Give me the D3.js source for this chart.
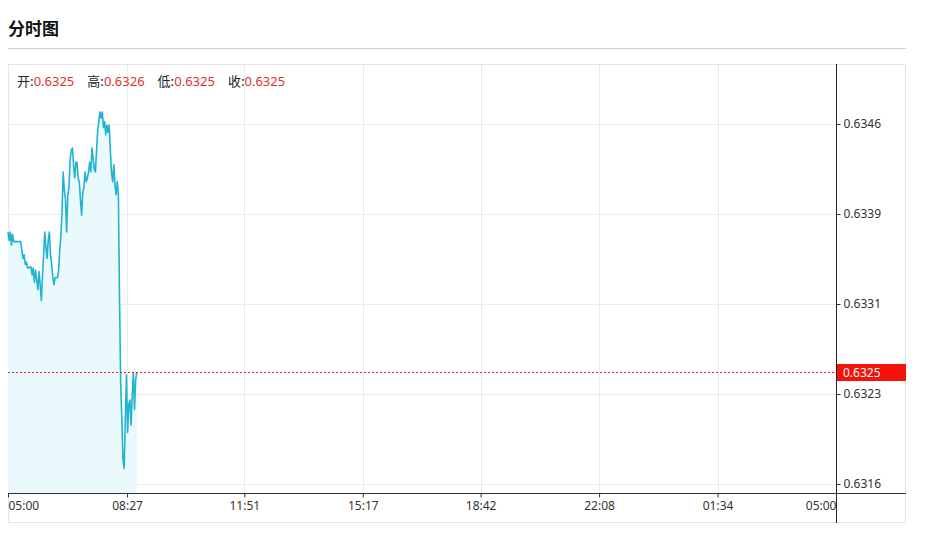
<!DOCTYPE html>
<html>
<head>
<meta charset="utf-8">
<script src="https://cdn.jsdelivr.net/npm/d3@7"></script>
<style>
  body { margin: 0; background: #fff; }
  svg { display: block; font-family: "Noto Sans CJK SC", "Noto Sans", sans-serif; }
</style>
</head>
<body>
<svg width="933" height="547"></svg>
<script>
// chart data
const startTime = "05:00";
const stepMinutes = 2;
const prices = [
  0.63370, 0.63363, 0.63370, 0.63359, 0.63368, 0.63362, 0.63362, 0.63362, 0.63362, 0.63362,
  0.63362, 0.63362, 0.63355, 0.63348, 0.63351, 0.63343, 0.63345, 0.63340, 0.63340, 0.63341,
  0.63341, 0.63334, 0.63340, 0.63328, 0.63338, 0.63330, 0.63322, 0.63337, 0.63326, 0.63313,
  0.63334, 0.63351, 0.63370, 0.63357, 0.63348, 0.63363, 0.63370, 0.63351, 0.63343, 0.63332,
  0.63326, 0.63332, 0.63332, 0.63332, 0.63338, 0.63355, 0.63367, 0.63387, 0.63420, 0.63405,
  0.63397, 0.63370, 0.63401, 0.63407, 0.63430, 0.63438, 0.63440, 0.63426, 0.63415, 0.63428,
  0.63428, 0.63415, 0.63412, 0.63397, 0.63384, 0.63403, 0.63407, 0.63420, 0.63412, 0.63415,
  0.63420, 0.63428, 0.63420, 0.63440, 0.63432, 0.63422, 0.63420, 0.63438, 0.63455, 0.63462,
  0.63470, 0.63465, 0.63470, 0.63457, 0.63462, 0.63451, 0.63459, 0.63453, 0.63459, 0.63438,
  0.63420, 0.63412, 0.63426, 0.63409, 0.63401, 0.63412, 0.63401, 0.63313, 0.63244, 0.63213,
  0.63180, 0.63173, 0.63213, 0.63251, 0.63203, 0.63226, 0.63230, 0.63209, 0.63234, 0.63253,
  0.63222, 0.63247, 0.63253
];
const lastClose = 0.63253;
const yDomain = [0.631525, 0.6351];
const yTickValues = [0.6316, 0.63235, 0.6331, 0.63385, 0.6346];
const yTickLabels = ["0.6316", "0.6323", "0.6331", "0.6339", "0.6346"];
const xTickLabels = ["05:00", "08:27", "11:51", "15:17", "18:42", "22:08", "01:34", "05:00"];
const legendNames = ["开", "高", "低", "收"];
const legendValues = ["0.6325", "0.6326", "0.6325", "0.6325"];
const title = "分时图";

const svg = d3.select("svg");
const pLeft = 8, pRight = 836, pTop = 64, pBottom = 493, boxRight = 906, boxBottom = 523;

const toMin = s => { const [h, m] = s.split(":").map(Number); return h * 60 + m; };
const base = toMin(startTime);
const xTickMins = xTickLabels.map((s, i) => i === xTickLabels.length - 1 ? 1440 : ((toMin(s) - base + 1440) % 1440));

const x = d3.scaleLinear().domain([0, 1440]).range([pLeft, pRight]);
const y = d3.scaleLinear().domain(yDomain).range([pBottom, pTop]);

// title
svg.append("text").attr("x", 8).attr("y", 35).attr("font-size", 17).attr("font-weight", "bold")
  .attr("fill", "#111").text(title);
svg.append("line").attr("x1", 8).attr("x2", boxRight).attr("y1", 48.5).attr("y2", 48.5)
  .attr("stroke", "#d0d0d0");

// box
svg.append("rect").attr("x", pLeft + 0.5).attr("y", pTop + 0.5)
  .attr("width", boxRight - pLeft - 1).attr("height", boxBottom - pTop - 1)
  .attr("fill", "none").attr("stroke", "#e3e6e8");

// grid
svg.append("g").selectAll("line").data(yTickValues).join("line")
  .attr("x1", pLeft).attr("x2", pRight)
  .attr("y1", d => Math.round(y(d)) + 0.5).attr("y2", d => Math.round(y(d)) + 0.5)
  .attr("stroke", "#e6edf0");
svg.append("g").selectAll("line").data(xTickMins.slice(1, -1)).join("line")
  .attr("x1", d => Math.round(x(d)) + 0.5).attr("x2", d => Math.round(x(d)) + 0.5)
  .attr("y1", pTop).attr("y2", pBottom)
  .attr("stroke", "#e6edf0");

// area + line
const pts = prices.map((p, i) => ({ t: i * stepMinutes, v: p }));
svg.append("path").datum(pts)
  .attr("d", d3.area().x(d => x(d.t)).y0(pBottom).y1(d => y(d.v)))
  .attr("fill", "#eaf9fb");
svg.append("path").datum(pts)
  .attr("d", d3.line().x(d => x(d.t)).y(d => y(d.v)))
  .attr("fill", "none").attr("stroke", "#20b4d2").attr("stroke-width", 1.6)
  .attr("stroke-linejoin", "round");

// close line
const cy = Math.round(y(lastClose)) + 0.5;
svg.append("line").attr("x1", pLeft).attr("x2", pRight).attr("y1", cy).attr("y2", cy)
  .attr("stroke", "#e8231a").attr("stroke-dasharray", "2,2");

// right axis
const yAxis = d3.axisRight(y).tickValues(yTickValues).tickSize(4).tickPadding(3)
  .tickFormat((d, i) => yTickLabels[i]);
const ya = svg.append("g").attr("transform", `translate(${pRight + 0.5},0)`).call(yAxis);
ya.select(".domain").remove();
ya.selectAll(".tick line").attr("stroke", "#333");
ya.selectAll(".tick text").attr("font-size", 12).attr("fill", "#333")
  .attr("font-family", "'Noto Sans', sans-serif");
svg.append("line").attr("x1", pRight + 0.5).attr("x2", pRight + 0.5).attr("y1", pTop).attr("y2", boxBottom)
  .attr("stroke", "#222");

// bottom axis
const xAxis = d3.axisBottom(x).tickValues(xTickMins).tickSize(4).tickPadding(4)
  .tickFormat((d, i) => xTickLabels[i]);
const xa = svg.append("g").attr("transform", `translate(0,${pBottom + 0.5})`).call(xAxis);
xa.select(".domain").remove();
xa.selectAll(".tick line").attr("stroke", "#333");
xa.selectAll(".tick text").attr("font-size", 12).attr("fill", "#333")
  .attr("font-family", "'Noto Sans', sans-serif")
  .attr("text-anchor", (d, i) => i === 0 ? "start" : (i === xTickMins.length - 1 ? "end" : "middle"));
svg.append("line").attr("x1", pLeft).attr("x2", boxRight).attr("y1", pBottom + 0.5).attr("y2", pBottom + 0.5)
  .attr("stroke", "#333");

// close label
svg.append("rect").attr("x", pRight + 1).attr("y", cy - 8.5).attr("width", boxRight - pRight - 1).attr("height", 17)
  .attr("fill", "#f3130b");
svg.append("text").attr("x", pRight + 7).attr("y", cy + 4.5).attr("font-size", 12).attr("fill", "#fff")
  .attr("font-family", "'Noto Sans', sans-serif")
  .text(d3.format(".4f")(lastClose));

// legend
const lg = svg.append("text").attr("x", 17).attr("y", 86).attr("font-size", 13);
legendNames.forEach((n, i) => {
  lg.append("tspan").attr("fill", "#222").attr("dx", i === 0 ? 0 : 13).text(n + ":");
  lg.append("tspan").attr("fill", "#e0302a").attr("font-family", "'Noto Sans', sans-serif").text(legendValues[i]);
});
</script>
</body>
</html>
